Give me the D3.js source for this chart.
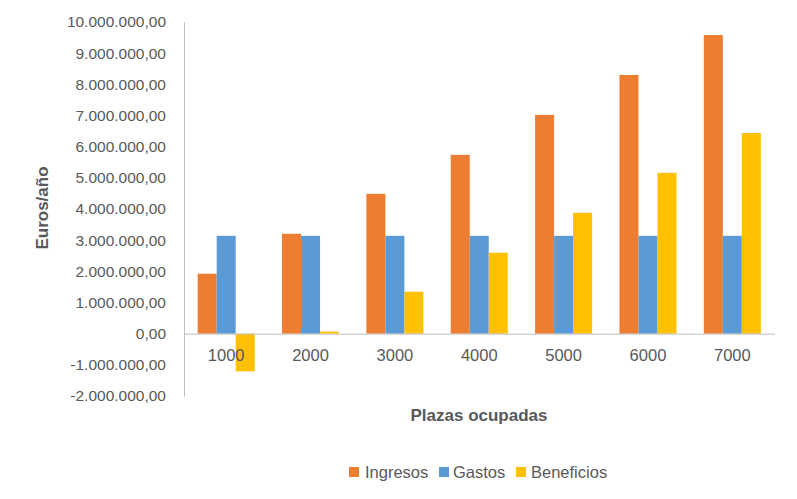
<!DOCTYPE html>
<html><head><meta charset="utf-8">
<script src="https://cdn.jsdelivr.net/npm/d3@7"></script>
<style>body{margin:0;background:#fff}svg{display:block;font-family:"Liberation Sans",Arial,sans-serif}</style>
</head><body><svg id="c" width="797" height="499"></svg>
<script>
const categories = ["1000","2000","3000","4000","5000","6000","7000"];
const seriesNames = ["Ingresos","Gastos","Beneficios"];
const ingresos = [1923000, 3205000, 4487000, 5737000, 7019000, 8300000, 9583000];
const gastos = [3140000, 3140000, 3140000, 3140000, 3140000, 3140000, 3140000];
const beneficios = [-1210000, 64000, 1346000, 2596000, 3878000, 5160000, 6440000];
const colors = ["#ED7D31","#5B9BD5","#FFC000"];
const yTicks = [-2000000,-1000000,0,1000000,2000000,3000000,4000000,5000000,6000000,7000000,8000000,9000000,10000000];

const svg = d3.select("#c");
const mLeft = 184, mRight = 774.5, mTop = 22, mBottom = 396;
const x = d3.scaleBand().domain(categories).range([mLeft, mRight]).paddingInner(0.324).paddingOuter(0.162);
const xs = d3.scaleBand().domain(seriesNames).range([0, x.bandwidth()]);
const y = d3.scaleLinear().domain([-2000000, 10000000]).range([mBottom, mTop]);

const fmt = v => {
  const s = d3.format(",.2f")(v);
  return s.replace(/,/g,"#").replace(".",",").replace(/#/g,".").replace("−","-");
};

const yAxis = d3.axisLeft(y).tickValues(yTicks).tickSize(0).tickPadding(18).tickFormat(fmt);
const gy = svg.append("g").attr("transform",`translate(${mLeft},0)`).call(yAxis);
gy.select(".domain").attr("stroke","#bfbfbf").attr("stroke-width",1);
gy.selectAll("text").attr("fill","#595959").style("font-size","15.5px").style("font-family",'"Liberation Sans",Arial,sans-serif');

const data = categories.map((c,i)=>({c, vals:[ingresos[i],gastos[i],beneficios[i]]}));
const g = svg.append("g");
data.forEach(d=>{
  d.vals.forEach((v,j)=>{
    g.append("rect")
      .attr("x", x(d.c)+xs(seriesNames[j]))
      .attr("width", xs.bandwidth())
      .attr("y", y(Math.max(0,v)))
      .attr("height", Math.abs(y(v)-y(0)))
      .attr("fill", colors[j]);
  });
});

const xAxis = d3.axisBottom(x).tickSize(0).tickPadding(16);
const gx = svg.append("g").attr("transform",`translate(0,${y(0)})`).call(xAxis);
gx.select(".domain").attr("stroke","#bfbfbf").attr("stroke-width",1);
gx.selectAll("text").attr("fill","#595959").style("font-size","16.5px").style("font-family",'"Liberation Sans",Arial,sans-serif');

svg.append("text").attr("transform","translate(48,208) rotate(-90)").attr("text-anchor","middle")
  .attr("fill","#595959").style("font-size","17px").style("font-weight","bold").text("Euros/año");
svg.append("text").attr("x",479).attr("y",421).attr("text-anchor","middle")
  .attr("fill","#595959").style("font-size","17px").style("font-weight","bold").text("Plazas ocupadas");

const legSq = [349, 439, 516];
const legTx = [365, 453, 531];
seriesNames.forEach((n,i)=>{
  svg.append("rect").attr("x",legSq[i]).attr("y",467).attr("width",10).attr("height",10).attr("fill",colors[i]);
  svg.append("text").attr("x",legTx[i]).attr("y",478).attr("fill","#595959").style("font-size","16.5px").text(n);
});
</script></body></html>
